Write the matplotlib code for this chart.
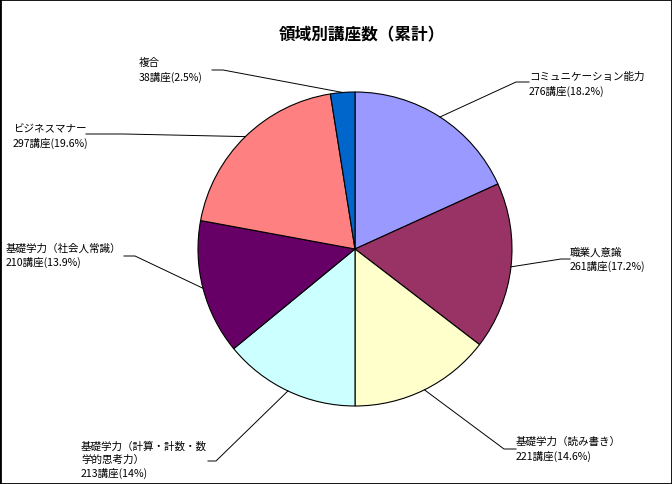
import numpy as np
import matplotlib
matplotlib.use("Agg")
import matplotlib.pyplot as plt
from matplotlib.patches import Rectangle

plt.rcParams['font.family'] = ['Noto Sans CJK JP', 'DejaVu Sans']

title = "領域別講座数（累計）"
categories = ["コミュニケーション能力", "職業人意識", "基礎学力（読み書き）",
              "基礎学力（計算・計数・数\n学的思考力）", "基礎学力（社会人常識）",
              "ビジネスマナー", "複合"]
counts = [276, 261, 221, 213, 210, 297, 38]
pct_labels = ["18.2%", "17.2%", "14.6%", "14%", "13.9%", "19.6%", "2.5%"]
colors = ["#9999FF", "#993366", "#FFFFCC", "#CCFFFF", "#660066", "#FF8080", "#0066CC"]

W, H = 672, 485
fig = plt.figure(figsize=(W / 100, H / 100), dpi=100)
ax = fig.add_axes([0, 0, 1, 1])

cx, cy, r = 355, H - 250, 157
wedges, _ = ax.pie(counts, colors=colors, startangle=90, counterclock=False,
                   center=(cx, cy), radius=r, frame=True,
                   wedgeprops=dict(edgecolor='black', linewidth=0.8))
ax.set_xlim(0, W)
ax.set_ylim(0, H)
ax.set_aspect('equal')
ax.axis('off')

# label layout (pixel coords, y from top): text top-left, elbow, line start
layout = [
    dict(tx=529, ty=72, elbow=(516, 83), start=(529, 83)),
    dict(tx=570, ty=247, elbow=(561, 260), start=(570, 260)),
    dict(tx=516, ty=437, elbow=(504, 450), start=(516, 450)),
    dict(tx=81, ty=441, elbow=(216, 462), start=(208, 462)),
    dict(tx=6, ty=243, elbow=(135, 257), start=(124, 257)),
    dict(tx=13, ty=124, elbow=(124, 135), start=(86, 135)),
    dict(tx=139, ty=58, elbow=(223, 71), start=(212, 71)),
]

for w, cat, n, p, lay in zip(wedges, categories, counts, pct_labels, layout):
    mid = np.deg2rad((w.theta1 + w.theta2) / 2)
    ex, ey = cx + r * np.cos(mid), cy + r * np.sin(mid)
    xs = [lay['start'][0], lay['elbow'][0], ex]
    ys = [H - lay['start'][1], H - lay['elbow'][1], ey]
    ax.plot(xs, ys, color='black', linewidth=0.7)
    ax.text(lay['tx'], H - lay['ty'], f"{cat}\n{n}講座({p})", fontsize=7.6,
            ha='left', va='top', linespacing=1.38)

ax.text(362, H - 35, title, fontsize=12, fontweight='bold', ha='center', va='center')

fig.patches.append(Rectangle((0, 0), 1, 1, transform=fig.transFigure, fill=False,
                             edgecolor='black', linewidth=2))
fig.savefig("out.png", dpi=100, facecolor='white')
